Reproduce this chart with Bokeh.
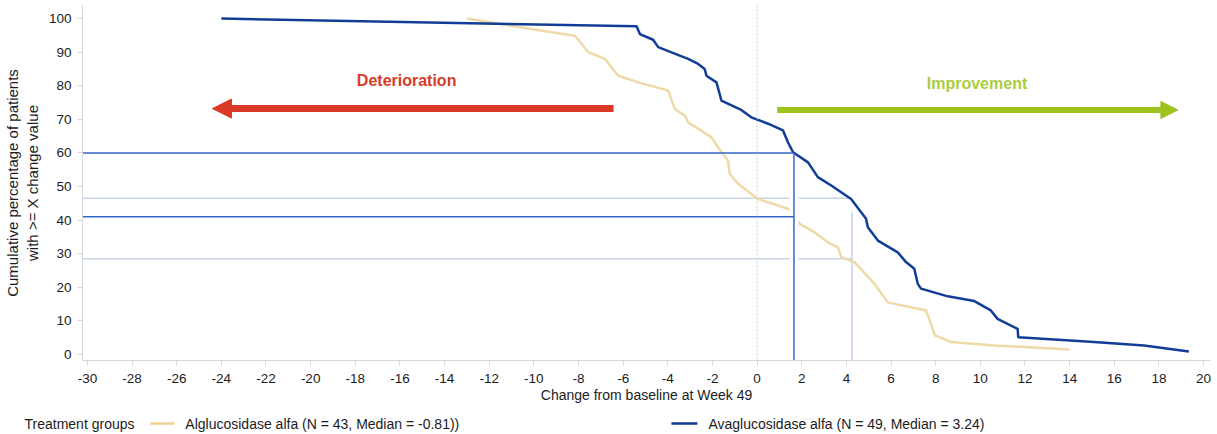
from bokeh.plotting import figure
from bokeh.layouts import column
from bokeh.models import (Range1d, FixedTicker, Span, Arrow, NormalHead, Label)
from bokeh.core.properties import value
from bokeh.embed import file_html
from bokeh.resources import INLINE

FONT = "Liberation Sans"

# Cumulative distribution of change from baseline at Week 49
ava_x = [-24.0, -5.40, -5.25, -4.66, -4.43, -3.98, -3.09, -2.64, -2.35, -2.27, -1.82, -1.60,
         -0.71, -0.26, 0.49, 1.16, 1.38, 1.61, 2.28, 2.72, 3.32, 4.21, 4.88, 4.96, 5.41, 6.30,
         6.67, 7.04, 7.20, 7.34, 8.54, 9.73, 10.47, 10.77, 11.67, 11.70, 15.09, 17.33, 19.34]
ava_y = [100.0, 97.7, 95.4, 93.7, 91.5, 90.3, 88.0, 86.5, 85.0, 83.0, 81.0, 75.6,
         72.8, 70.6, 68.7, 66.7, 63.2, 60.2, 57.2, 52.8, 50.3, 46.3, 40.4, 37.9, 33.9, 30.4,
         27.5, 25.5, 21.0, 19.6, 17.3, 15.9, 13.1, 10.6, 7.6, 5.1, 3.7, 2.7, 0.9]

alg_x = [-13.0, -9.65, -8.16, -7.56, -6.82, -6.22, -5.33, -3.98, -3.69, -3.24, -3.09, -2.05,
         -1.75, -1.30, -1.23, -0.85, 0.04, 1.38, 1.61, 1.90, 2.57, 3.17, 3.62, 3.77, 4.36,
         5.25, 5.85, 7.57, 7.97, 8.69, 10.62, 13.98]
alg_y = [100.0, 96.4, 94.9, 90.0, 88.0, 83.0, 81.0, 78.6, 73.1, 71.1, 69.1, 64.7,
         61.7, 57.7, 53.8, 50.8, 46.3, 43.4, 42.4, 38.9, 36.4, 33.4, 31.9, 29.0, 27.5,
         21.1, 15.5, 13.1, 5.7, 3.7, 2.7, 1.5]

# Reference thresholds and the percentage of each group reaching them
thresholds = [1.65, 4.25]
ava_at_threshold = [60.0, 46.5]
alg_at_threshold = [41.0, 28.5]
second_drop_top = 42.6

x_ticks = list(range(-30, 21, 2))
y_ticks = list(range(0, 101, 10))

legend_title = "Treatment groups"
alg_label = "Alglucosidase alfa (N = 43, Median = -0.81))"
ava_label = "Avaglucosidase alfa (N = 49, Median = 3.24)"

X0, X1 = -30.22, 20.31
Y0, Y1 = -1.8, 103.9

BLUE = "#113d98"
TAN = "#eedaa9"
REF_BLUE = "#3466c6"
REF_LIGHT = "#c8d5e6"
RED = "#d93a26"
GREEN = "#9dc31c"
INK = "#1c1c1c"

p = figure(width=1217, height=410, output_backend="svg", toolbar_location=None,
           x_range=Range1d(X0, X1), y_range=Range1d(Y0, Y1),
           min_border_left=80, min_border_right=7, min_border_top=5, min_border_bottom=50)
p.title.visible = False
p.outline_line_color = None
p.grid.visible = False
p.background_fill_color = "white"

for ax in (p.xaxis[0], p.yaxis[0]):
    ax.axis_line_color = "#d4d7dc"
    ax.major_tick_line_color = "#d4d7dc"
    ax.minor_tick_line_color = None
    ax.major_tick_in = 0
    ax.major_tick_out = 5
    ax.major_label_text_font = FONT
    ax.major_label_text_font_size = "13.5px"
    ax.major_label_text_color = INK
    ax.axis_label_text_font = FONT
    ax.axis_label_text_font_style = "normal"
    ax.axis_label_text_color = INK

p.xaxis.ticker = FixedTicker(ticks=x_ticks)
p.yaxis.ticker = FixedTicker(ticks=y_ticks)
p.xaxis.major_label_overrides = {t: str(t) for t in x_ticks}
p.yaxis.major_label_overrides = {t: str(t) for t in y_ticks}
p.xaxis.major_label_standoff = 8
p.yaxis.major_label_standoff = 6
p.xaxis.axis_label = "Change from baseline at Week 49"
p.xaxis.axis_label_text_font_size = "14px"
p.xaxis.axis_label_standoff = 1
p.yaxis.axis_label = "Cumulative percentage of patients\nwith >= X change value"
p.yaxis.axis_label_text_font_size = "15px"
p.yaxis.axis_label_standoff = 5

# zero line
p.add_layout(Span(location=0, dimension="height", line_color="#c9ccd2",
                  line_dash="2 2", line_width=1))

# light reference lines at the second threshold
p.segment(x0=[X0, X0], y0=[ava_at_threshold[1], alg_at_threshold[1]],
          x1=[thresholds[1], thresholds[1]], y1=[ava_at_threshold[1], alg_at_threshold[1]],
          line_color=REF_LIGHT, line_width=1.6)
p.segment(x0=[thresholds[1]], y0=[Y0], x1=[thresholds[1]], y1=[second_drop_top],
          line_color="#b9cdea", line_width=1.3)

p.line(alg_x, alg_y, line_color=TAN, line_width=2.5)

# white halo around the first threshold's vertical line
p.segment(x0=[thresholds[0]], y0=[Y0], x1=[thresholds[0]], y1=[52],
          line_color="white", line_width=9)

p.line(ava_x, ava_y, line_color=BLUE, line_width=2.5)

# first threshold reference lines
p.segment(x0=[X0, X0], y0=[ava_at_threshold[0], alg_at_threshold[0]],
          x1=[thresholds[0], thresholds[0]], y1=[ava_at_threshold[0], alg_at_threshold[0]],
          line_color=REF_BLUE, line_width=1.5)
p.segment(x0=[thresholds[0]], y0=[Y0], x1=[thresholds[0]], y1=[ava_at_threshold[0]],
          line_color=REF_BLUE, line_width=1.5)

# direction arrows
p.add_layout(Arrow(x_start=-6.43, y_start=73.2, x_end=-24.4, y_end=73.2,
                   line_color=RED, line_width=7,
                   end=NormalHead(size=19, fill_color=RED, line_color=RED, line_width=1)))
p.add_layout(Arrow(x_start=0.9, y_start=72.8, x_end=18.85, y_end=72.8,
                   line_color=GREEN, line_width=6,
                   end=NormalHead(size=17, fill_color=GREEN, line_color=GREEN, line_width=1)))

p.add_layout(Label(x=-15.7, y=81.5, text="Deterioration", text_font=FONT,
                   text_font_size="16px", text_font_style="bold", text_color=RED,
                   text_align="center", text_baseline="middle"))
p.add_layout(Label(x=9.85, y=80.7, text="Improvement", text_font=FONT,
                   text_font_size="16px", text_font_style="bold", text_color="#a9cd3c",
                   text_align="center", text_baseline="middle"))

# legend strip; its frame lines up with the chart frame, so x is in page pixels
LEG_ROW = 11
lg = figure(width=1217, height=24, output_backend="svg", toolbar_location=None,
            x_range=Range1d(80, 1210), y_range=Range1d(0, 24),
            x_axis_type=None, min_border=0, min_border_left=80, min_border_right=7)
lg.title.visible = False
lg.outline_line_color = None
lg.grid.visible = False
# group heading carried by the strip's left axis
lg.yaxis.ticker = FixedTicker(ticks=[LEG_ROW])
lg.yaxis.major_label_overrides = {LEG_ROW: legend_title}
lg.yaxis.axis_line_color = None
lg.yaxis.major_tick_line_color = None
lg.yaxis.minor_tick_line_color = None
lg.yaxis.major_tick_in = 0
lg.yaxis.major_tick_out = 0
lg.yaxis.major_label_standoff = -52
lg.yaxis.major_label_text_font = FONT
lg.yaxis.major_label_text_font_size = "14px"
lg.yaxis.major_label_text_color = INK

lg.segment(x0=[148], y0=[LEG_ROW], x1=[172], y1=[LEG_ROW], line_color="#f2d08e", line_width=2.5)
lg.segment(x0=[670], y0=[LEG_ROW], x1=[696], y1=[LEG_ROW], line_color=BLUE, line_width=2.5)
lg.text(x=[183, 707], y=[LEG_ROW, LEG_ROW], text=[alg_label, ava_label],
        text_font=value(FONT), text_font_size="14px", text_color=INK,
        text_baseline="middle", text_align="left")

layout = column(p, lg, spacing=0)
open("out.html", "w").write(file_html(layout, INLINE))
